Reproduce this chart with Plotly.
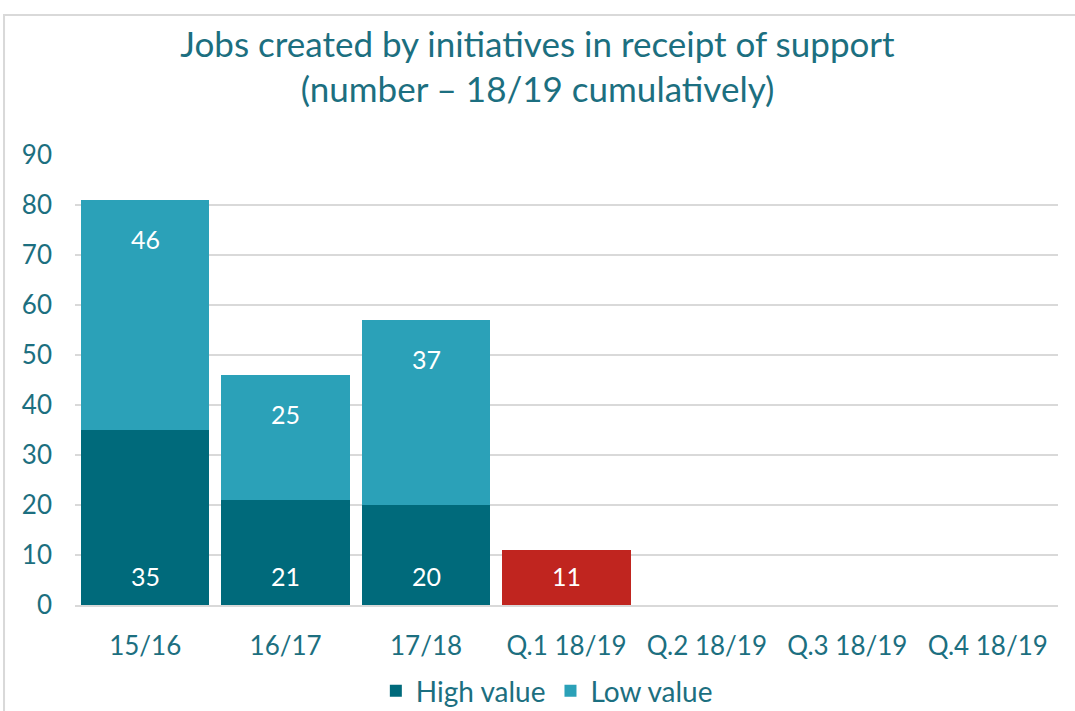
import plotly.graph_objects as go

categories = ["15/16", "16/17", "17/18", "Q.1 18/19", "Q.2 18/19", "Q.3 18/19", "Q.4 18/19"]
high_value = [35, 21, 20, 11, None, None, None]
low_value = [46, 25, 37, None, None, None, None]
high_colors = ["#006A7B", "#006A7B", "#006A7B", "#C0251F", "#006A7B", "#006A7B", "#006A7B"]

TEXT = "#1C6F80"
FONT = "Lato, 'DejaVu Sans', sans-serif"

fig = go.Figure()
fig.add_trace(go.Bar(
    x=categories, y=high_value, name="High value",
    marker=dict(color=high_colors, line=dict(width=0)),
))
fig.add_trace(go.Bar(
    x=categories, y=low_value, name="Low value",
    marker=dict(color="#2BA1B8", line=dict(width=0)),
))

annotations = []
for c, h, l in zip(categories, high_value, low_value):
    if h is not None:
        annotations.append(dict(x=c, y=0, text=str(h), showarrow=False, yanchor="middle",
                                yshift=29, font=dict(color="white", size=25, family=FONT)))
    if l is not None:
        annotations.append(dict(x=c, y=(h or 0) + l, text=str(l), showarrow=False, yanchor="middle",
                                yshift=-39, font=dict(color="white", size=25, family=FONT)))

fig.update_layout(
    barmode="stack",
    bargap=0.085,
    width=1075, height=711,
    paper_bgcolor="white", plot_bgcolor="white",
    margin=dict(l=75, r=17, t=155, b=106, autoexpand=False),
    font=dict(family=FONT, color=TEXT, size=26),
    title=dict(
        text="Jobs created by initiatives in receipt of support<br>(number \u2013 18/19 cumulatively)",
        x=0.5, xanchor="center", y=0.92, yanchor="middle",
        font=dict(size=35, color=TEXT, family=FONT),
    ),
    xaxis=dict(
        automargin=False,
        showgrid=False, showline=True, linecolor="#D9D9D9", linewidth=2,
        ticks="", tickfont=dict(size=26, color=TEXT), ticklabelstandoff=17,
    ),
    yaxis=dict(
        automargin=False,
        range=[0, 90], dtick=10, showgrid=True, gridcolor="#D9D9D9", gridwidth=1.5,
        zeroline=False, showline=False, ticks="",
        tickfont=dict(size=26, color=TEXT), ticklabelstandoff=22,
    ),
    legend=dict(
        orientation="h", x=0.48, xanchor="center", yref="container", y=0.028, yanchor="middle",
        font=dict(size=28, color=TEXT), traceorder="normal",
    ),
    annotations=annotations,
    shapes=[dict(
        type="rect", xref="paper", yref="paper",
        x0=-0.0722, x1=1.2, y0=-0.4, y1=1.311,
        line=dict(color="#D9D9D9", width=2), fillcolor="rgba(0,0,0,0)", layer="below",
    )],
)

fig.write_html("out.html", config={"displayModeBar": False},
               post_script="document.body.style.margin='0';document.body.style.overflow='hidden';")
